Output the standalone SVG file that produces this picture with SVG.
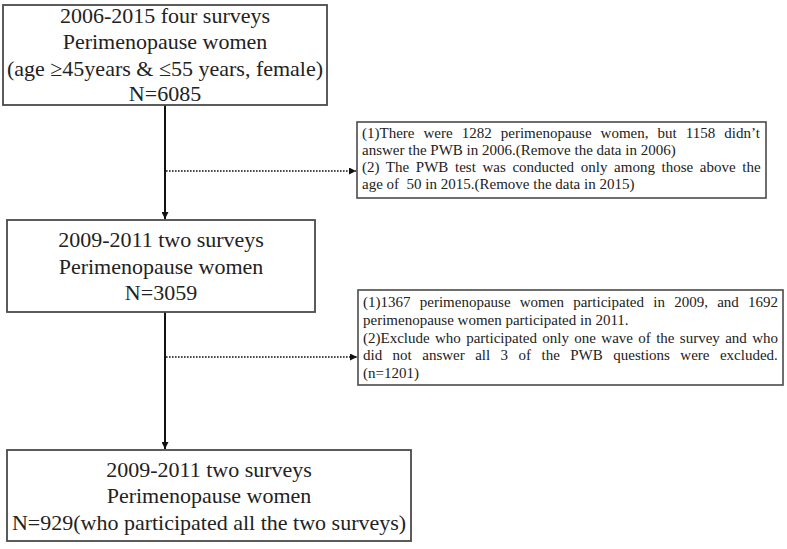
<svg xmlns="http://www.w3.org/2000/svg" width="787" height="549" viewBox="0 0 787 549">
<style>
.box{fill:#fff;stroke:#4a4a4a;stroke-width:1.8}
.note{fill:#fff;stroke:#4a4a4a;stroke-width:1.6}
.big{font-family:"Liberation Serif","Times New Roman",serif;font-size:22px;fill:#222;text-anchor:middle}
.small{font-family:"Liberation Serif","Times New Roman",serif;font-size:15px;fill:#222}
.solid{stroke:#111;stroke-width:2;fill:none}
.dot{stroke:#111;stroke-width:1.6;stroke-dasharray:1.6 1.4;fill:none}
</style>
<defs>
<marker id="arr" viewBox="0 0 10 10" refX="10" refY="5" markerWidth="7" markerHeight="7" markerUnits="userSpaceOnUse" orient="auto">
<path d="M0,0 L10,5 L0,10 z" fill="#111"/>
</marker>
</defs>
<rect width="787" height="549" fill="#fff"/>
<g id="connectors">
<line class="solid" x1="165" y1="105" x2="165" y2="219" marker-end="url(#arr)"/>
<line class="solid" x1="165" y1="312" x2="165" y2="449" marker-end="url(#arr)"/>
<line class="dot" x1="166" y1="171" x2="356" y2="171" marker-end="url(#arr)"/>
<line class="dot" x1="166" y1="357" x2="357" y2="357" marker-end="url(#arr)"/>
</g>
<g id="node1">
<rect class="box" x="3" y="5" width="324" height="100"/>
<text class="big" x="165" y="23">2006-2015 four surveys</text>
<text class="big" x="165" y="49">Perimenopause women</text>
<text class="big" x="165" y="76">(age ≥45years &amp; ≤55 years, female)</text>
<text class="big" x="165" y="101">N=6085</text>
</g>
<g id="node2">
<rect class="box" x="7" y="220" width="308" height="92"/>
<text class="big" x="161" y="247">2009-2011 two surveys</text>
<text class="big" x="161" y="274">Perimenopause women</text>
<text class="big" x="161" y="300">N=3059</text>
</g>
<g id="node3">
<rect class="box" x="7" y="450" width="404" height="91"/>
<text class="big" x="209" y="477">2009-2011 two surveys</text>
<text class="big" x="209" y="503">Perimenopause women</text>
<text class="big" x="209" y="530">N=929(who participated all the two surveys)</text>
</g>
<g id="note1">
<rect class="note" x="357" y="122" width="409" height="76"/>
<text class="small" x="362" y="138" word-spacing="5.3">(1)There were 1282 perimenopause women, but 1158 didn’t</text>
<text class="small" x="362" y="155">answer the PWB in 2006.(Remove the data in 2006)</text>
<text class="small" x="362" y="172" word-spacing="2.9">(2) The PWB test was conducted only among those above the</text>
<text class="small" x="362" y="189" xml:space="preserve">age of  50 in 2015.(Remove the data in 2015)</text>
</g>
<g id="note2">
<rect class="note" x="358" y="290" width="425" height="95"/>
<text class="small" x="363" y="307" word-spacing="5.5">(1)1367 perimenopause women participated in 2009, and 1692</text>
<text class="small" x="363" y="325">perimenopause women participated in 2011.</text>
<text class="small" x="363" y="343" word-spacing="1.6">(2)Exclude who participated only one wave of the survey and who</text>
<text class="small" x="363" y="360" word-spacing="6.7">did not answer all 3 of the PWB questions were excluded.</text>
<text class="small" x="363" y="378">(n=1201)</text>
</g>
</svg>
